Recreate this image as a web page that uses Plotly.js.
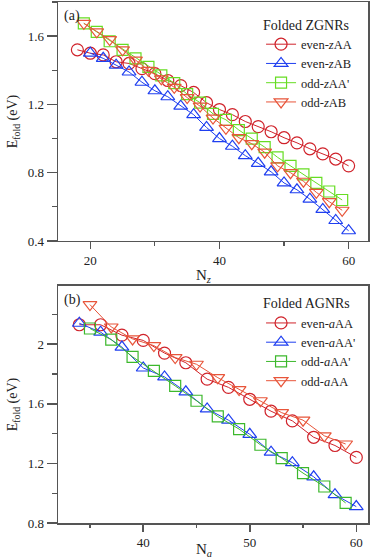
<!DOCTYPE html>
<html>
<head>
<meta charset="utf-8">
<script src="https://cdn.plot.ly/plotly-3.0.1.min.js"></script>
<style>
  body { margin: 0; background: #fff; }
  #plot { width: 370px; height: 560px; }
</style>
</head>
<body>
<div id="plot"></div>
<script>
// panel (a): folded ZGNRs
var nzEven = [18, 20, 22, 24, 26, 28, 30, 32, 34, 36, 38, 40, 42, 44, 46, 48, 50, 52, 54, 56, 58, 60];
var evenZAA = [1.52, 1.50, 1.49, 1.45, 1.44, 1.41, 1.38, 1.34, 1.31, 1.27, 1.21, 1.17, 1.14, 1.10, 1.07, 1.04, 1.005, 0.975, 0.94, 0.91, 0.88, 0.84];
var nzEvenAB = [20, 22, 24, 26, 28, 30, 32, 34, 36, 38, 40, 42, 44, 46, 48, 50, 52, 54, 56, 58, 60];
var evenZAB = [1.50, 1.47, 1.43, 1.39, 1.33, 1.28, 1.245, 1.19, 1.14, 1.065, 1.00, 0.955, 0.90, 0.855, 0.805, 0.74, 0.70, 0.645, 0.585, 0.52, 0.46];
var nzOdd = [19, 21, 23, 25, 27, 29, 31, 33, 35, 37, 39, 41, 43, 45, 47, 49, 51, 53, 55, 57, 59];
var oddZAA = [1.675, 1.625, 1.57, 1.52, 1.47, 1.42, 1.37, 1.325, 1.26, 1.21, 1.145, 1.11, 1.05, 1.0, 0.95, 0.89, 0.84, 0.79, 0.74, 0.69, 0.64];
var oddZAB = [1.675, 1.625, 1.58, 1.52, 1.46, 1.40, 1.35, 1.30, 1.24, 1.19, 1.12, 1.06, 1.005, 0.97, 0.92, 0.84, 0.80, 0.75, 0.685, 0.63, 0.58];

// panel (b): folded AGNRs
var naEven = [34, 36, 38, 40, 42, 44, 46, 48, 50, 52, 54, 56, 58, 60];
var evenAAA = [2.13, 2.13, 2.06, 2.025, 1.94, 1.875, 1.765, 1.71, 1.63, 1.55, 1.485, 1.375, 1.32, 1.24];
var evenAAAp = [2.14, 2.08, 1.98, 1.84, 1.78, 1.68, 1.565, 1.49, 1.395, 1.275, 1.205, 1.11, 0.99, 0.91];
var naOdd = [35, 37, 39, 41, 43, 45, 47, 49, 51, 53, 55, 57, 59];
var oddAAAp = [2.105, 2.03, 1.915, 1.82, 1.72, 1.62, 1.515, 1.43, 1.325, 1.235, 1.135, 1.045, 0.935];
var oddAAA = [2.265, 2.115, 2.035, 1.99, 1.91, 1.865, 1.775, 1.695, 1.62, 1.54, 1.49, 1.385, 1.33];

var RED = '#d0222a', BLUE = '#1f3ff0', LIME = '#66dd22', GREEN = '#3cb82c', ORANGE = '#e8553a';

function series(x, y, name, color, symbol, size, xa, ya, leg) {
  return {
    x: x, y: y, name: name, type: 'scatter', mode: 'lines+markers',
    xaxis: xa, yaxis: ya, legend: leg,
    line: {color: color, width: 1},
    marker: {symbol: symbol, size: size, color: color, line: {color: color, width: 1.2}}
  };
}

var data = [
  series(nzEven, evenZAA, 'even-<i>z</i>AA', RED, 'circle-open', 12, 'x', 'y', 'legend'),
  series(nzEvenAB, evenZAB, 'even-<i>z</i>AB', BLUE, 'triangle-up-open', 12, 'x', 'y', 'legend'),
  series(nzOdd, oddZAA, "odd-<i>z</i>AA'", LIME, 'square-open', 11, 'x', 'y', 'legend'),
  series(nzOdd, oddZAB, 'odd-<i>z</i>AB', ORANGE, 'triangle-down-open', 12, 'x', 'y', 'legend'),
  series(naEven, evenAAA, 'even-<i>a</i>AA', RED, 'circle-open', 12, 'x2', 'y2', 'legend2'),
  series(naEven, evenAAAp, "even-<i>a</i>AA'", BLUE, 'triangle-up-open', 12, 'x2', 'y2', 'legend2'),
  series(naOdd, oddAAAp, "odd-<i>a</i>AA'", GREEN, 'square-open', 11, 'x2', 'y2', 'legend2'),
  series(naOdd, oddAAA, 'odd-<i>a</i>AA', ORANGE, 'triangle-down-open', 12, 'x2', 'y2', 'legend2')
];

var FONT = '"Liberation Serif", serif';

function axis(range, dtick, tick0, minorDtick, domain, anchor, len) {
  return {
    range: range, dtick: dtick, tick0: tick0, domain: domain, anchor: anchor,
    showgrid: false, zeroline: false, showline: true, mirror: true,
    linecolor: '#555', linewidth: 1.5,
    ticks: 'outside', ticklen: len, tickwidth: 1.5, tickcolor: '#555',
    tickfont: {family: FONT, size: 13, color: '#222'},
    minor: {dtick: minorDtick, ticks: 'outside', ticklen: len / 2, tickwidth: 1.2, tickcolor: '#555', showgrid: false}
  };
}

var layout = {
  width: 370, height: 560,
  margin: {l: 58, r: 2, t: 2, b: 37},
  paper_bgcolor: '#fff', plot_bgcolor: '#fff',
  font: {family: FONT, size: 13, color: '#222'},
  xaxis: axis([15, 63], 20, 0, 10, [0, 1], 'y', 7),
  yaxis: Object.assign(axis([0.4, 1.8], 0.4, 0.4, 0.2, [0.5413, 1], 'x', 10),
    {title: {text: 'E<sub>fold</sub> (eV)', font: {family: FONT, size: 14}, standoff: 6}}),
  xaxis2: axis([32, 61.1], 10, 0, 5, [0, 1], 'y2', 7),
  yaxis2: Object.assign(axis([0.8, 2.39], 0.4, 0.8, 0.2, [0, 0.4549], 'x2', 10),
    {title: {text: 'E<sub>fold</sub> (eV)', font: {family: FONT, size: 14}, standoff: 6}}),
  legend: {
    x: 0.655, y: 0.982, xanchor: 'left', yanchor: 'top',
    bgcolor: 'rgba(0,0,0,0)', itemwidth: 30, tracegroupgap: 0,
    title: {text: 'Folded ZGNRs', font: {family: FONT, size: 14}},
    font: {family: FONT, size: 12.5, color: '#222'}
  },
  legend2: {
    x: 0.655, y: 0.447, xanchor: 'left', yanchor: 'top',
    bgcolor: 'rgba(0,0,0,0)', itemwidth: 30, tracegroupgap: 0,
    title: {text: 'Folded AGNRs', font: {family: FONT, size: 14}},
    font: {family: FONT, size: 12.5, color: '#222'}
  },
  annotations: [
    {text: '(a)', xref: 'paper', yref: 'paper', x: 0.012, y: 0.993, xanchor: 'left', yanchor: 'top', showarrow: false, font: {family: FONT, size: 14}},
    {text: '(b)', xref: 'paper', yref: 'paper', x: 0.012, y: 0.448, xanchor: 'left', yanchor: 'top', showarrow: false, font: {family: FONT, size: 14}},
    {text: 'N<sub><i>z</i></sub>', xref: 'paper', yref: 'paper', x: 0.47, y: 0.5413, yshift: -24, xanchor: 'center', yanchor: 'top', showarrow: false, font: {family: FONT, size: 15}},
    {text: 'N<sub><i>a</i></sub>', xref: 'paper', yref: 'paper', x: 0.47, y: 0, yshift: -16, xanchor: 'center', yanchor: 'top', showarrow: false, font: {family: FONT, size: 15}}
  ],
  showlegend: true
};

Plotly.newPlot('plot', data, layout, {displayModeBar: false, staticPlot: true});
</script>
</body>
</html>
